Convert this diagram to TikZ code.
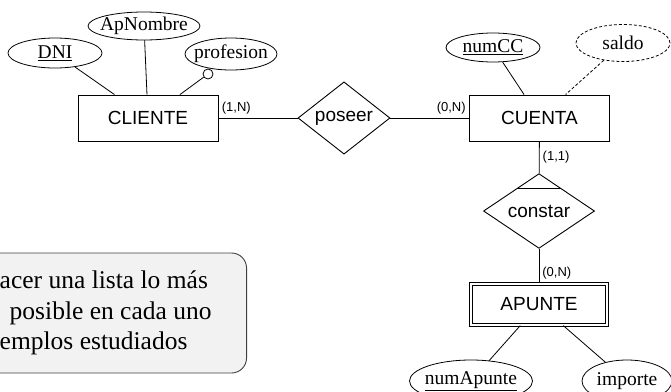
\documentclass[tikz,border=0pt]{standalone}
\usepackage{fontspec}
\setmainfont{Liberation Serif}
\setsansfont{Liberation Sans}
\usetikzlibrary{shapes.geometric,calc}

\begin{document}
\begin{tikzpicture} [
                x=1pt, y=-1pt,
                line width=0.8pt,
                entity/.style={draw,rectangle,line width=0.9pt,minimum width=140pt,minimum height=46pt,inner sep=0pt,font=\sffamily\fontsize{19}{22}\selectfont},
                weak entity/.style={entity,double,double distance=2pt,line width=0.8pt,minimum width=136.4pt,minimum height=41.4pt},
                relation/.style={draw,diamond,inner sep=0pt,line width=0.9pt,font=\sffamily\fontsize{19}{22}\selectfont},
                attribute/.style={draw,ellipse,inner sep=0pt},
                derived/.style={attribute,dash pattern=on 3pt off 2pt},
                attr text/.style={font=\fontsize{19.5}{22}\selectfont,inner sep=0pt},
                card/.style={font=\sffamily\fontsize{13}{15}\selectfont,inner sep=3pt},
                optional/.style={draw,circle,fill=white,minimum size=10pt,inner sep=0pt},
                link/.style={draw,-},
                dashed link/.style={draw,dash pattern=on 3pt off 2pt,-},
                note/.style={draw=black!75,fill=black!5,rounded corners=15pt,line width=0.9pt,align=left,inner xsep=35pt,minimum height=120pt,font=\fontsize{25.5}{30.5}\selectfont},
            ]
            \clip[use as bounding box] (0,0) rectangle (671,391);
            \node[entity] (cliente) at (148,118) {CLIENTE};
            \node[entity] (cuenta) at (539.5,118) {CUENTA};
            \node[weak entity] (apunte) at (539,304.5) {APUNTE};
            \node[relation,minimum width=92pt,minimum height=46pt] (poseer) at (344,118) {poseer};
            \node[relation,minimum width=111pt,minimum height=55pt] (constar) at (539,211) {constar};
            \foreach \name/\x/\y/\w/\h/\txt in {
            dni/55/53/94/30/\underline{DNI}, apnombre/144/26/112/28/ApNombre,
            profesion/231/54/92/32/profesion, numcc/493/47.5/94/29/\underline{numCC},
            numapunte/471/381/123/42/\underline{numApunte}, importe/627/381/90/42/importe}
            {
                \node[attribute,minimum width=\w pt,minimum height=\h pt] (\name) at (\x,\y) {};
                \node[attr text] (\name-t) at (\name) {\txt};
            }
            \node[derived,minimum width=94pt,minimum height=37pt] (saldo) at (623,43) {};
            \node[attr text] (saldo-t) at (saldo) {saldo};
            \node[optional] (prof-opt) at (208,74) {};
            \foreach \source/ \dest in {
                    dni/cliente,apnombre/cliente,prof-opt/cliente,numcc/cuenta,apunte/numapunte,apunte/importe}
                \path[link] (\source) edge (\dest);
            \path[dashed link] (saldo) edge (cuenta);
            \draw (cliente) -- node[card,pos=0,above right] (card-cliente) {(1,N)} (poseer);
            \draw (poseer) -- node[card,pos=1,above left] (card-cuenta) {(0,N)} (cuenta);
            \draw (cuenta) -- node[card,midway,right] (card-cuenta2) {(1,1)} (constar);
            \draw (constar) -- node[card,pos=0.7,right] (card-apunte) {(0,N)} (apunte);
            \draw ($(constar.north)!0.4!(constar.west)$) -- ($(constar.north)!0.4!(constar.east)$);
            \node[note,anchor=east] (nota) at (247,313) {acer una lista lo más\\\hspace*{10pt}posible en cada uno\\emplos estudiados};
        \end{tikzpicture}
\end{document}
